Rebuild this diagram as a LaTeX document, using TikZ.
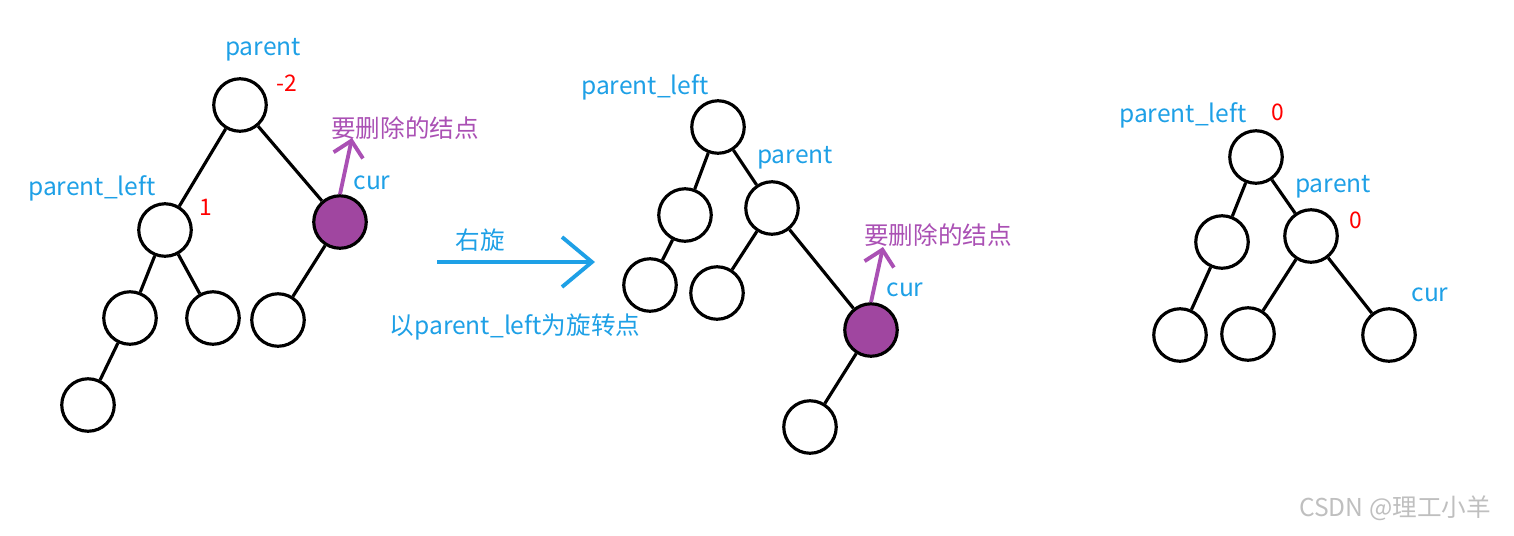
\documentclass[tikz,border=0pt]{standalone}
\usepackage{fontspec}
\setmainfont{Noto Sans CJK SC}
\usetikzlibrary{arrows.meta}
\definecolor{lblue}{RGB}{30,160,230}
\definecolor{dpurple}{RGB}{160,70,160}
\definecolor{lpurple}{RGB}{170,80,180}
\tikzstyle{vertex} = [circle, draw, line width=1.8pt, minimum size=1.05cm, inner sep=0pt]
\tikzstyle{gone} = [vertex, fill=dpurple]
\tikzstyle{lbl} = [text=lblue, font=\fontsize{14}{16}\selectfont]
\tikzstyle{bal} = [text=red, font=\fontsize{13}{15}\selectfont]
\tikzstyle{note} = [text=lpurple, font=\fontsize{14}{16}\selectfont]
\tikzstyle{edge} = [draw, line width=1.8pt]

\begin{document}
\begin{tikzpicture}[x=0.02cm, y=-0.02cm]
  \useasboundingbox (0,0) rectangle (1514,535);
  % first tree
  \node [vertex] (p) at (240,105) {};
  \node [vertex] (pl) at (165,230) {};
  \node [gone] (c) at (340,222) {};
  \node [vertex] (a) at (130,318) {};
  \node [vertex] (b) at (213,318) {};
  \node [vertex] (d) at (278,320) {};
  \node [vertex] (e) at (88,405) {};
  \path [edge] (p) -- (pl);
  \path [edge] (p) -- (c);
  \path [edge] (pl) -- (a);
  \path [edge] (pl) -- (b);
  \path [edge] (c) -- (d);
  \path [edge] (a) -- (e);
  \node [lbl] (pt) at (263,50) {parent};
  \node [bal] (pb) at (287,83) {-2};
  \node [lbl] (plt) at (92,188) {parent\_left};
  \node [bal] (plb) at (206,207) {1};
  \node [lbl] (ct) at (372,183) {cur};
  \node [note] (del) at (405,128) {要删除的结点};
  \coordinate (tip) at (352,138);
  \draw [lpurple, line width=2.2pt, -{Straight Barb[length=3mm]}] (c.north) -- (tip);

  % rotation arrow
  \coordinate (r0) at (437,262);
  \coordinate (r1) at (595,262);
  \draw [lblue, line width=2.2pt, -{Straight Barb[length=6mm,width=10mm]}] (r0) -- (r1);
  \node [lbl] (rot) at (480,240) {右旋};
  \node [lbl] (rotb) at (515,327) {以parent\_left为旋转点};

  % second tree
  \node [vertex] (q) at (718,127) {};
  \node [vertex] (ql) at (685,215) {};
  \node [vertex] (qp) at (772,208) {};
  \node [vertex] (qa) at (650,285) {};
  \node [vertex] (qb) at (717,293) {};
  \node [gone] (qc) at (871,330) {};
  \node [vertex] (qd) at (810,427) {};
  \path [edge] (q) -- (ql);
  \path [edge] (q) -- (qp);
  \path [edge] (ql) -- (qa);
  \path [edge] (qp) -- (qb);
  \path [edge] (qp) -- (qc);
  \path [edge] (qc) -- (qd);
  \node [lbl] (qlt) at (645,87) {parent\_left};
  \node [lbl] (qpt) at (795,158) {parent};
  \node [note] (qdel) at (938,235) {要删除的结点};
  \node [lbl] (qct) at (905,290) {cur};
  \coordinate (qtip) at (883,247);
  \draw [lpurple, line width=2.2pt, -{Straight Barb[length=3mm]}] (qc.north) -- (qtip);

  % third tree
  \node [vertex] (s) at (1256,157) {};
  \node [vertex] (sl) at (1222,242) {};
  \node [vertex] (sp) at (1311,236) {};
  \node [vertex] (sa) at (1180,335) {};
  \node [vertex] (sb) at (1248,334) {};
  \node [vertex] (sc) at (1389,335) {};
  \path [edge] (s) -- (sl);
  \path [edge] (s) -- (sp);
  \path [edge] (sl) -- (sa);
  \path [edge] (sp) -- (sb);
  \path [edge] (sp) -- (sc);
  \node [lbl] (slt) at (1183,115) {parent\_left};
  \node [bal] (sb0) at (1278,112) {0};
  \node [lbl] (spt) at (1333,187) {parent};
  \node [bal] (sp0) at (1356,220) {0};
  \node [lbl] (sct) at (1430,295) {cur};

  \node [text=gray!50, font=\fontsize{14}{16}\selectfont] (mark) at (1395,508) {CSDN @理工小羊};
\end{tikzpicture}
\end{document}
